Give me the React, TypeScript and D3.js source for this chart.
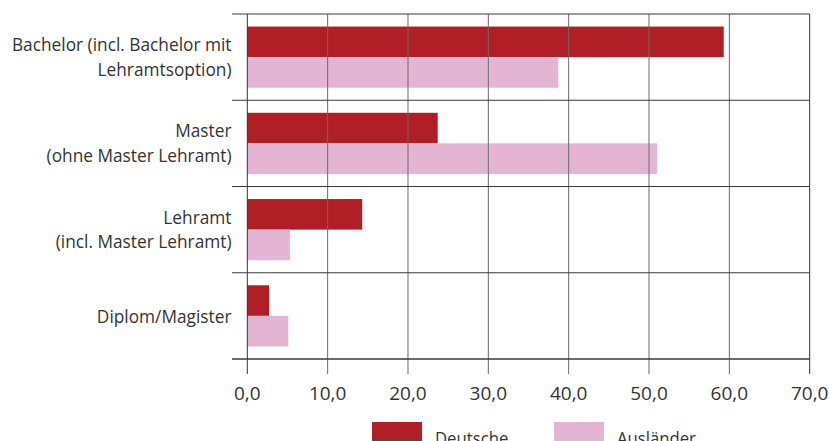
import React from "react";
import * as d3 from "d3";

const categories: string[][] = [
  ["Bachelor (incl. Bachelor mit", "Lehramtsoption)"],
  ["Master", "(ohne Master Lehramt)"],
  ["Lehramt", "(incl. Master Lehramt)"],
  ["Diplom/Magister"],
];
const seriesNames = ["Deutsche", "Ausländer"];
const deutsche = [59.3, 23.7, 14.3, 2.7];
const auslaender = [38.7, 51.0, 5.3, 5.1];
const xTicks = [0, 10, 20, 30, 40, 50, 60, 70];
const colors = ["#B01F25", "#E4B5D3"];

const W = 829;
const H = 441;
const left = 247.3;
const right = 809.7;
const top = 14;
const bottom = 359;
const FONT = "'Open Sans', 'Noto Sans', sans-serif";

export default function App() {
  const x = d3.scaleLinear().domain([0, 70]).range([left, right]);
  const catKeys = categories.map((_, i) => String(i));
  const y = d3.scaleBand<string>().domain(catKeys).range([top, bottom]).padding(0);
  const inner = d3
    .scaleBand<string>()
    .domain(seriesNames)
    .range([0, y.bandwidth()])
    .paddingInner(0)
    .paddingOuter(0.41);
  const values = [deutsche, auslaender];
  const fmt = (v: number) => v.toFixed(1).replace(".", ",");
  const labelX = 231.5;

  return (
    <svg
      width={W}
      height={H}
      style={{ position: "absolute", left: 0, top: 0, background: "#fff" }}
      fontFamily={FONT}
    >
      {/* bars */}
      {catKeys.map((k, ci) =>
        seriesNames.map((s, si) => (
          <rect
            key={k + s}
            x={x(0)}
            y={(y(k) as number) + (inner(s) as number)}
            width={x(values[si][ci]) - x(0)}
            height={inner.bandwidth()}
            fill={colors[si]}
          />
        ))
      )}
      {/* vertical gridlines */}
      {xTicks.map((t) => (
        <line
          key={"v" + t}
          x1={x(t)}
          x2={x(t)}
          y1={top}
          y2={bottom + 15}
          stroke={t === 0 || t === 70 ? "#333" : "#6a6a6a"}
          strokeWidth={1}
        />
      ))}
      {/* horizontal separators */}
      {[...catKeys.map((k) => y(k) as number), bottom].map((yy, i) => (
        <line
          key={"h" + i}
          x1={232}
          x2={right}
          y1={yy}
          y2={yy}
          stroke="#3a3a3a"
          strokeWidth={i === categories.length ? 1.6 : 1}
        />
      ))}
      {/* tick labels */}
      {xTicks.map((t) => (
        <text
          key={"t" + t}
          x={x(t)}
          y={400}
          textAnchor="middle"
          fontSize={19}
          fill="#333"
        >
          {fmt(t)}
        </text>
      ))}
      {/* category labels */}
      {categories.map((lines, ci) => {
        const c = (y(String(ci)) as number) + y.bandwidth() / 2;
        return (
          <g key={"c" + ci} transform={`translate(${labelX},0) scale(0.91,1)`}>
            {lines.length === 1 ? (
              <text x={0} y={c + 7} textAnchor="end" fontSize={19} fill="#333">
                {lines[0]}
              </text>
            ) : (
              <text x={0} textAnchor="end" fontSize={19} fill="#333">
                <tspan x={0} y={c - 6}>{lines[0]}</tspan>
                <tspan x={0} y={c + 18.5}>{lines[1]}</tspan>
              </text>
            )}
          </g>
        );
      })}
      {/* legend */}
      {seriesNames.map((s, i) => {
        const lx = [372, 554][i];
        return (
          <g key={"l" + s}>
            <rect x={lx} y={422} width={50} height={22} fill={colors[i]} />
            <g transform={`translate(${lx + 63},0) scale(0.88,1)`}>
              <text x={0} y={445} fontSize={19} fill="#333">
                {s}
              </text>
            </g>
          </g>
        );
      })}
    </svg>
  );
}
